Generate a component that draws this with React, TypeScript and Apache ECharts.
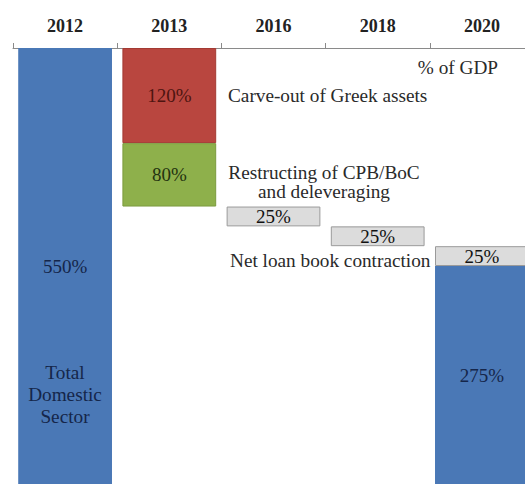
import React, { useEffect, useRef } from "react";
import * as echarts from "echarts";

const categories = ["2012", "2013", "2016", "2018", "2020"];
const startTotal = 550;
const carveOut = 120;
const restructuring = 80;
const contraction = [25, 25, 25];
const endTotal = 275;

const SERIF = '"Liberation Serif", "Times New Roman", serif';

export default function App() {
  const ref = useRef<HTMLDivElement>(null);
  useEffect(() => {
    if (!ref.current) return;
    const chart = echarts.init(ref.current, null, { renderer: "svg" });

    // waterfall offsets derived from data
    const afterRestructuring = carveOut + restructuring;
    const base: any[] = ["-", "-"];
    const gray: any[] = ["-", "-"];
    let cum = afterRestructuring;
    contraction.forEach((v) => {
      base.push(cum);
      gray.push(v);
      cum += v;
    });
    const red: any[] = ["-", carveOut, "-", "-", "-"];
    const green: any[] = ["-", restructuring, "-", "-", "-"];
    const blue: any[] = [startTotal, "-", "-", "-", endTotal];

    const lbl = (color: string, size = 19) => ({
      show: true,
      position: "inside",
      formatter: "{c}%",
      color,
      fontFamily: SERIF,
      fontSize: size,
    });

    const note = (text: string, x: number, y: number, align: string, extra: any = {}, fill = "#2a2a2a") => ({
      type: "text",
      x,
      y,
      z: 100,
      scaleX: 1.07,
      style: {
        text,
        fill,
        fontFamily: SERIF,
        fontSize: 18,
        align,
        verticalAlign: "middle",
        ...extra,
      },
    });

    chart.setOption({
      animation: false,
      grid: { left: 13, right: 6, top: 48, bottom: 0 },
      xAxis: {
        type: "category",
        data: categories,
        position: "top",
        axisLine: { onZero: false, lineStyle: { color: "#8a8a8a", width: 1 } },
        axisTick: { show: true, length: 5, lineStyle: { color: "#8a8a8a" } },
        axisLabel: {
          fontFamily: SERIF,
          fontWeight: "bold",
          fontSize: 18,
          color: "#222",
          margin: 13,
        },
        splitLine: { show: false },
      },
      yAxis: {
        type: "value",
        inverse: true,
        min: 0,
        max: startTotal,
        show: false,
        splitLine: { show: false },
      },
      series: [
        {
          type: "bar",
          stack: "w",
          data: base,
          barWidth: "90%",
          itemStyle: { color: "transparent" },
          silent: true,
        },
        {
          type: "bar",
          stack: "w",
          data: red,
          barWidth: "90%",
          itemStyle: { color: "#b9463f", borderColor: "#a33a33", borderWidth: 1 },
          label: lbl("#4d1410"),
        },
        {
          type: "bar",
          stack: "w",
          data: green,
          barWidth: "90%",
          itemStyle: { color: "#8eb04b", borderColor: "#7c9b3e", borderWidth: 1 },
          label: lbl("#243310"),
        },
        {
          type: "bar",
          stack: "w",
          data: gray,
          barWidth: "90%",
          itemStyle: { color: "#dcdcdc", borderColor: "#9a9a9a", borderWidth: 1 },
          label: lbl("#111"),
        },
        {
          type: "bar",
          stack: "w",
          data: blue,
          barWidth: "90%",
          itemStyle: { color: "#4a78b6" },
          label: lbl("#15264a"),
        },
      ],
      graphic: [
        note("% of GDP", 498, 68, "right"),
        note("Carve-out of Greek assets", 228, 96, "left"),
        note("Restructing of CPB/BoC\nand deleveraging", 324, 182, "center", { lineHeight: 19 }),
        note("Net loan book contraction", 230, 261, "left"),
        note("Total\nDomestic\nSector", 65, 395, "center", { lineHeight: 22 }, "#15264a"),
      ],
    });
    return () => chart.dispose();
  }, []);
  return (
    <div style={{ position: "absolute", left: 0, top: 0, width: 525, height: 484, overflow: "hidden", background: "#fff" }}>
      <div ref={ref} style={{ width: 540, height: 484 }} />
    </div>
  );
}
